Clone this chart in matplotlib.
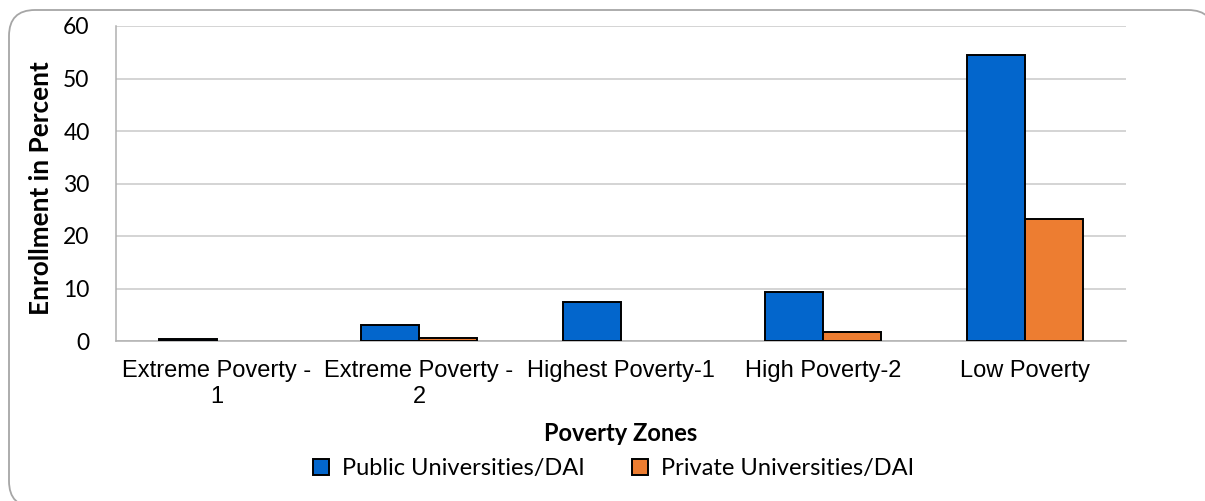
import numpy as np
import matplotlib.pyplot as plt
import matplotlib.patches as mpatches

# ============================================================
# Data
# ============================================================

zones = ["Extreme Poverty -\n1", "Extreme Poverty -\n2", "Highest Poverty-1",
         "High Poverty-2", "Low Poverty"]
public_pct = [0.3, 3.0, 7.4, 9.3, 54.5]
private_pct = [0.0, 0.6, 0.0, 1.7, 23.2]

series_names = ["Public Universities/DAI", "Private Universities/DAI"]
blue = "#0366CC"
orange = "#ED7D31"

# ============================================================
# Figure
# ============================================================

W, H = 1205, 501
fig = plt.figure(figsize=(W / 100, H / 100), dpi=100)

# rounded chart-area frame, drawn in pixel units
bg = fig.add_axes([0, 0, 1, 1])
bg.set_xlim(0, W)
bg.set_ylim(H, 0)
bg.axis("off")
frame = mpatches.FancyBboxPatch((9, 10), 1205, 497,
                                boxstyle="round,pad=0,rounding_size=26",
                                facecolor="white", edgecolor="#a6a6a6", lw=1.3)
bg.add_patch(frame)

ax = fig.add_axes([116 / W, 1 - 341 / H, (1126 - 116) / W, (341 - 26) / H])
ax.patch.set_visible(False)

# zero values are not drawn at all (Excel leaves them empty)
pub = np.array(public_pct, dtype=float)
priv = np.array(private_pct, dtype=float)
pub[pub == 0] = np.nan
priv[priv == 0] = np.nan

x = np.arange(len(zones))
bw = 0.287
ax.bar(x - bw / 2, pub, bw, color=blue, edgecolor="black", lw=1.4,
       label=series_names[0], zorder=3)
ax.bar(x + bw / 2, priv, bw, color=orange, edgecolor="black", lw=1.4,
       label=series_names[1], zorder=3)

ax.set_xlim(-0.5, len(zones) - 0.5)
ax.set_ylim(0, 60)
ax.set_yticks(range(0, 61, 10))
ax.yaxis.grid(True, color="#c9c9c9", lw=1.1, zorder=0)
ax.set_axisbelow(True)

for s in ["top", "right"]:
    ax.spines[s].set_visible(False)
for s in ["left", "bottom"]:
    ax.spines[s].set_color("#b0b0b0")
    ax.spines[s].set_linewidth(1.1)

ax.set_xticks(x)
ax.set_xticklabels(zones, fontsize=17, family="Liberation Sans",
                   linespacing=1.2)
ax.tick_params(axis="x", length=0, pad=14)
ax.tick_params(axis="y", length=0, pad=19, labelsize=16.5)
for t in ax.get_yticklabels():
    t.set_family("Lato")

# axis titles
fig.text(41 / W, 1 - 188.5 / H, "Enrollment in Percent", rotation=90,
         ha="center", va="center", fontsize=18.8, fontweight="bold",
         family="Lato")
fig.text(621 / W, 1 - 441 / H, "Poverty Zones", ha="center", va="baseline",
         fontsize=17, fontweight="bold", family="Lato")

fig.legend(loc="center", bbox_to_anchor=(614 / W, 1 - 469 / H), ncol=2,
           frameon=False, prop={"family": "Lato", "size": 17},
           handlelength=0.68, handleheight=0.68, handletextpad=0.55,
           columnspacing=2.0, borderpad=0, borderaxespad=0)

plt.savefig("out.png", dpi=100)
